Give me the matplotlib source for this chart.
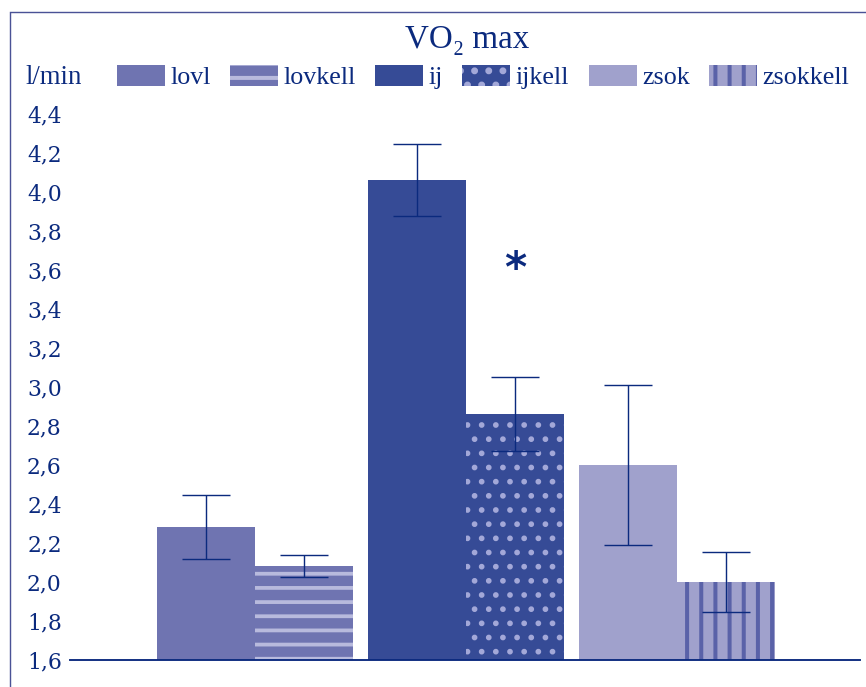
import numpy as np
import matplotlib
matplotlib.use('Agg')
import matplotlib.pyplot as plt
from matplotlib.patches import Rectangle

NAVY = '#0b2a7e'

groups = ['lovl', 'lovkell', 'ij', 'ijkell', 'zsok', 'zsokkell']
means = [2.28, 2.08, 4.06, 2.86, 2.60, 2.00]
errs = [0.164, 0.056, 0.185, 0.19, 0.41, 0.152]
yticks = [1.6, 1.8, 2.0, 2.2, 2.4, 2.6, 2.8, 3.0, 3.2, 3.4, 3.6, 3.8, 4.0, 4.2, 4.4]

# fill colour, hatch, hatch colour, hatch width (pt)
styles = [
    ('#6f74b1', None, None, 0),
    ('#6f74b1', '-', '#b8badd', 3.2),
    ('#364b96', None, None, 0),
    ('#364b96', '.', '#a3a8d8', 2.4),
    ('#a0a1cc', None, None, 0),
    ('#a0a1cc', '|', '#5a62a8', 3.4),
]

DPI = 85
fig = plt.figure(figsize=(866 / DPI, 687 / DPI), dpi=DPI)
ax = fig.add_axes([70 / 866, 1 - 660 / 687, 790 / 866, 546 / 687])

group_step = 2.153
lefts = [(i // 2) * group_step + (i % 2) for i in range(len(groups))]

handles = []
for i, name in enumerate(groups):
    fc, hatch, hc, hlw = styles[i]
    plt.rcParams['hatch.linewidth'] = hlw if hlw else 1.0
    b = ax.bar(lefts[i], means[i] - 1.6, bottom=1.6, width=1.0, align='edge',
               color=fc, edgecolor=hc if hc else fc, linewidth=0,
               hatch=hatch, label=name, zorder=2)
    if hlw:
        for p in b.patches:
            if hasattr(p, 'set_hatch_linewidth'):
                p.set_hatch_linewidth(hlw)
    handles.append(b)

centers = [l + 0.5 for l in lefts]
ax.errorbar(centers, means, yerr=errs, fmt='none', ecolor=NAVY,
            elinewidth=1.2, capsize=20, capthick=1.2, zorder=3)

# significance mark above ijkell
ax.text(centers[3], 3.6, '*', ha='center', va='center', color=NAVY,
        fontsize=36, fontweight='bold', family='DejaVu Sans')

ax.set_xlim(-0.888, 7.173)
ax.set_ylim(1.6, 4.4)
ax.set_yticks(yticks)
ax.set_yticklabels([('%.1f' % v).replace('.', ',') for v in yticks],
                   family='DejaVu Serif', fontsize=18.5, color=NAVY)
ax.tick_params(axis='y', length=0, pad=7)
ax.set_xticks([])
for s in ['left', 'right', 'top']:
    ax.spines[s].set_visible(False)
ax.spines['bottom'].set_color(NAVY)
ax.spines['bottom'].set_linewidth(1.6)
ax.spines['bottom'].set_zorder(4)

fig.text(467 / 866, 1 - 40 / 687, 'VO₂ max', ha='center', va='center',
         family=['Liberation Serif', 'DejaVu Serif'], fontsize=28, color=NAVY)
fig.text(25 / 866, 1 - 77 / 687, 'l/min', ha='left', va='center',
         family='Liberation Serif', fontsize=22.5, color=NAVY)

leg = fig.legend(handles=handles, loc='center left',
                 bbox_to_anchor=(104 / 866, 1 - 77 / 687), ncol=6,
                 frameon=False, borderpad=0, handlelength=1.85,
                 handleheight=0.9, handletextpad=0.2, columnspacing=0.75,
                 prop={'family': 'Liberation Serif', 'size': 22})
for t in leg.get_texts():
    t.set_color(NAVY)

# outer frame of the panel
fig.patches.append(Rectangle((10 / 866, -0.1), 1.2, 1 - 12 / 687 + 0.1,
                             transform=fig.transFigure, fill=False,
                             edgecolor='#4a5296', linewidth=1.2))

fig.savefig('out.png', dpi=DPI)
